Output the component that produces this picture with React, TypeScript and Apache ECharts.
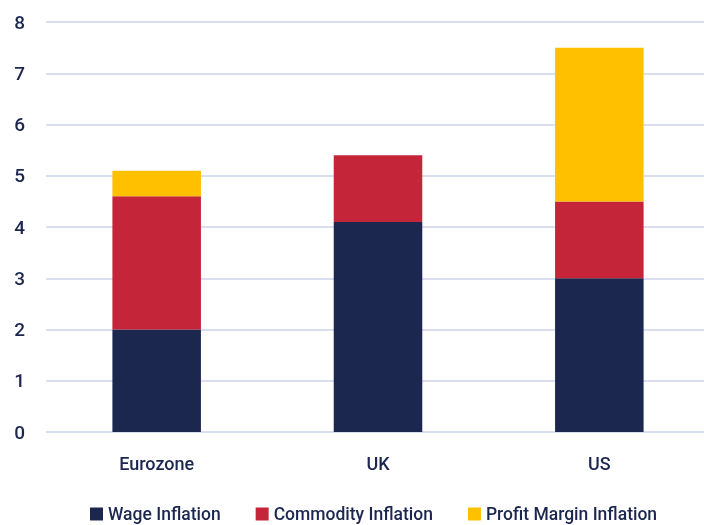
import React, { useEffect, useRef } from "react";
import * as echarts from "echarts";

const categories = ["Eurozone", "UK", "US"];
const wageInflation = [2.0, 4.1, 3.0];
const commodityInflation = [2.6, 1.3, 1.5];
const profitMarginInflation = [0.5, 0, 3.0];
const seriesNames = ["Wage Inflation", "Commodity Inflation", "Profit Margin Inflation"];

const NAVY = "#1c2750";
const FONT = "Roboto, 'Noto Sans', sans-serif";

export default function App() {
  const ref = useRef<HTMLDivElement>(null);
  useEffect(() => {
    if (!ref.current) return;
    const chart = echarts.init(ref.current, undefined, { renderer: "svg" });
    const mk = (name: string, data: number[], color: string) => ({
      name,
      type: "bar",
      stack: "total",
      data,
      barWidth: "40%",
      itemStyle: { color },
    });
    chart.setOption({
      animation: false,
      textStyle: { fontFamily: FONT, color: NAVY },
      grid: { left: 46, width: 664, top: 22, bottom: 93, outerBoundsMode: "none", containLabel: false },
      legend: {
        bottom: 2,
        left: 90,
        padding: 0,
        itemWidth: 13,
        itemHeight: 13,
        itemGap: 35,
        icon: "rect",
        textStyle: { fontFamily: FONT, color: NAVY, fontSize: 17.5, fontWeight: 500 },
        data: seriesNames,
      },
      xAxis: {
        type: "category",
        data: categories,
        axisLine: { show: false },
        axisTick: { show: false },
        axisLabel: { color: NAVY, fontSize: 18, fontWeight: 500, margin: 22, fontFamily: FONT },
      },
      yAxis: {
        type: "value",
        min: 0,
        max: 8,
        interval: 1,
        axisLabel: { color: NAVY, fontSize: 19, fontWeight: 500, margin: 21, fontFamily: FONT },
        splitLine: { lineStyle: { color: "#d9dff0", width: 2 } },
      },
      series: [
        mk(seriesNames[0], wageInflation, "#1c2750"),
        mk(seriesNames[1], commodityInflation, "#c42539"),
        mk(seriesNames[2], profitMarginInflation, "#ffc000"),
      ],
    });
    return () => chart.dispose();
  }, []);
  return (
    <div
      ref={ref}
      style={{ position: "fixed", left: 0, top: 0, width: 704, height: 525 }}
    />
  );
}
